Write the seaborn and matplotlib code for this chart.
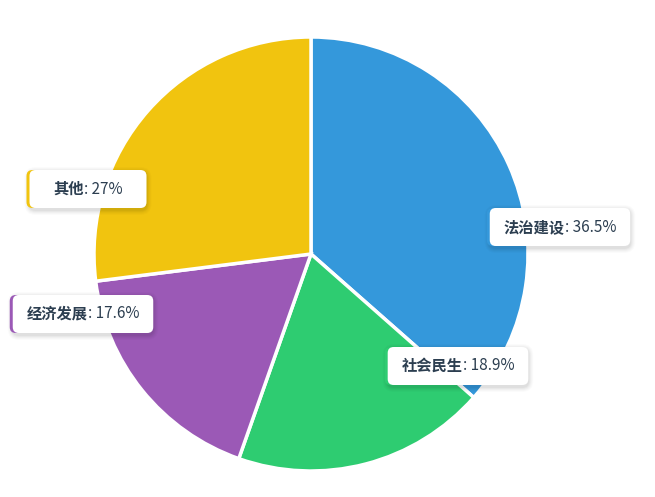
import matplotlib
matplotlib.use("Agg")
import matplotlib.pyplot as plt
import seaborn as sns
from matplotlib.patches import FancyBboxPatch
from matplotlib.transforms import IdentityTransform

categories = ["法治建设", "社会民生", "经济发展", "其他"]
values = [36.5, 18.9, 17.6, 27]
value_labels = ["36.5%", "18.9%", "17.6%", "27%"]
colors = ["#3498db", "#2ecc71", "#9b59b6", "#f1c40f"]

sns.set_theme(style="white")
plt.rcParams['font.family'] = ['Noto Sans CJK SC', 'DejaVu Sans']

W, H = 655, 497
fig = plt.figure(figsize=(W / 100, H / 100), dpi=100)
fig.patch.set_facecolor("white")

cx, cy, r = 311, 254, 217
ax = fig.add_axes([(cx - r) / W, (H - cy - r) / H, 2 * r / W, 2 * r / H])
ax.pie(values, colors=sns.color_palette(colors), startangle=90, counterclock=False,
       radius=1, wedgeprops=dict(edgecolor="white", linewidth=2.5))
ax.set_aspect("equal")
ax.set_xlim(-1.0, 1.0)
ax.set_ylim(-1.0, 1.0)
ax.axis("off")

# label box centers in pixel coordinates (from top-left)
centers = [(560, 227), (458, 366), (83, 314), (88, 189)]
text_color = "#2c3e50"
fs = 11
ident = IdentityTransform()

fig.canvas.draw()
renderer = fig.canvas.get_renderer()
for name, vl, col, (bx, by) in zip(categories, value_labels, colors, centers):
    py = H - by
    t1 = fig.text(0, py, name, transform=ident, fontsize=fs, fontweight="bold",
                  color=text_color, va="center", ha="left", zorder=10)
    t2 = fig.text(0, py, ": " + vl, transform=ident, fontsize=fs,
                  color=text_color, va="center", ha="left", zorder=10)
    w1 = t1.get_window_extent(renderer).width
    w2 = t2.get_window_extent(renderer).width
    tw = w1 + w2
    x0 = bx - tw / 2
    t1.set_position((x0, py))
    t2.set_position((x0 + w1, py))
    bw, bh = max(tw + 28, 117), 38
    left, bottom = bx - bw / 2, py - bh / 2
    # soft shadow
    for i, a in enumerate([0.035, 0.03, 0.025, 0.02, 0.015]):
        s = FancyBboxPatch((left - 1 - i, bottom - 3 - i), bw + 2 + 2 * i, bh + 2 + 2 * i,
                           boxstyle="round,pad=0,rounding_size=%d" % (7 + i), transform=ident,
                           facecolor="black", edgecolor="none", alpha=a, zorder=7)
        fig.patches.append(s)
    edge = FancyBboxPatch((left - 3, bottom), bw, bh,
                          boxstyle="round,pad=0,rounding_size=6", transform=ident,
                          facecolor=col, edgecolor="none", zorder=8)
    fig.patches.append(edge)
    box = FancyBboxPatch((left, bottom), bw, bh,
                         boxstyle="round,pad=0,rounding_size=6", transform=ident,
                         facecolor="white", edgecolor="none", zorder=9)
    fig.patches.append(box)

fig.savefig("out.png", dpi=100, facecolor="white")
